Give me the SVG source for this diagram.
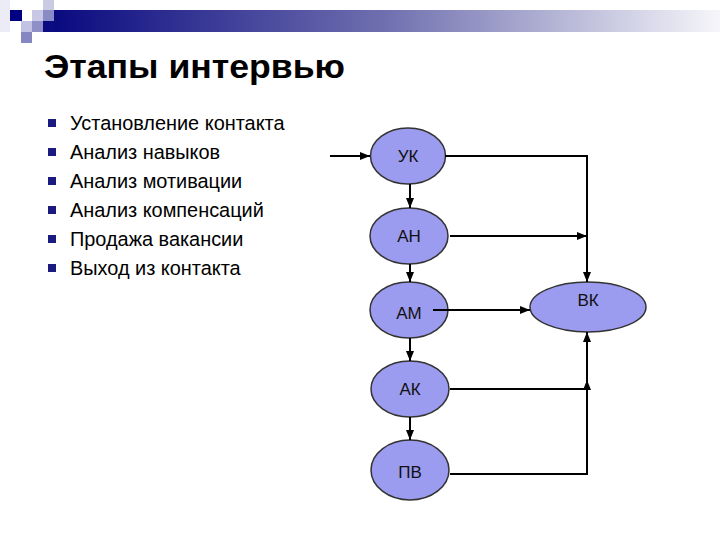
<svg xmlns="http://www.w3.org/2000/svg" width="720" height="540" viewBox="0 0 720 540">
<defs>
<linearGradient id="bar" x1="0" y1="0" x2="1" y2="0">
<stop offset="0" stop-color="#0a0a80"/>
<stop offset="0.5" stop-color="#7070b0"/>
<stop offset="1" stop-color="#f6f6fa"/>
</linearGradient>
<marker id="ah" viewBox="0 0 10 10" refX="10" refY="5" markerWidth="5" markerHeight="5" orient="auto" markerUnits="strokeWidth">
<path d="M0,1 L10,5 L0,9 z" fill="#000"/>
</marker>
<style>
.n{fill:#9b9bef;stroke:#333;stroke-width:1.5}
.nt{font-family:"Liberation Sans",Arial,sans-serif;font-size:17px;fill:#111;text-anchor:middle}
.c{stroke:#000;stroke-width:2;fill:none}
.ca{stroke:#000;stroke-width:2;fill:none;marker-end:url(#ah)}
.b{font-family:"Liberation Sans",Arial,sans-serif;font-size:19.9px;fill:#000}
.bs{fill:#1a1a80}
</style>
</defs>
<rect width="720" height="540" fill="#fff"/>
<g id="decor">
<rect x="54" y="10" width="666" height="22" fill="url(#bar)"/>
<rect x="0" y="0" width="10" height="32" fill="#ececf6"/>
<rect x="10" y="10" width="12" height="11" fill="#000080"/>
<rect x="32" y="10" width="11" height="11" fill="#c8c8e6"/>
<rect x="43" y="0" width="11" height="10" fill="#cacae2"/>
<rect x="43" y="10" width="11" height="11" fill="#8a8ac6"/>
<rect x="21" y="21" width="11" height="11" fill="#c2c2e2"/>
<rect x="32" y="21" width="11" height="11" fill="#9090c8"/>
<rect x="43" y="21" width="11" height="11" fill="#0c0c82"/>
<rect x="21" y="32" width="11" height="11" fill="#8686c0"/>
</g>
<text x="44" y="78" font-family="Liberation Sans,Arial,sans-serif" font-size="34" font-weight="bold" fill="#000" textLength="301" lengthAdjust="spacingAndGlyphs">Этапы интервью</text>
<g id="bullets">
<rect class="bs" x="48" y="119" width="8" height="8"/>
<rect class="bs" x="48" y="148" width="8" height="8"/>
<rect class="bs" x="48" y="177" width="8" height="8"/>
<rect class="bs" x="48" y="206" width="8" height="8"/>
<rect class="bs" x="48" y="235" width="8" height="8"/>
<rect class="bs" x="48" y="264" width="8" height="8"/>
<text class="b" x="70" y="130">Установление контакта</text>
<text class="b" x="70" y="159">Анализ навыков</text>
<text class="b" x="70" y="188">Анализ мотивации</text>
<text class="b" x="70" y="217">Анализ компенсаций</text>
<text class="b" x="70" y="246">Продажа вакансии</text>
<text class="b" x="70" y="275">Выход из контакта</text>
</g>
<g id="UK"><ellipse class="n" cx="408" cy="156" rx="37.5" ry="28"/><text class="nt" x="408" y="162">УК</text></g>
<g id="AN"><ellipse class="n" cx="409" cy="236" rx="39" ry="28"/><text class="nt" x="409" y="242">АН</text></g>
<g id="AM"><ellipse class="n" cx="409" cy="310" rx="39" ry="28"/><text class="nt" x="409" y="319">АМ</text></g>
<g id="AK"><ellipse class="n" cx="410" cy="389" rx="39" ry="28"/><text class="nt" x="410" y="395">АК</text></g>
<g id="PV"><ellipse class="n" cx="410" cy="470" rx="39" ry="30"/><text class="nt" x="410" y="478">ПВ</text></g>
<g id="VK"><ellipse class="n" cx="588" cy="307" rx="58" ry="25"/><text class="nt" x="588" y="306">ВК</text></g>
<g id="connectors">
<line class="ca" x1="330" y1="156" x2="370" y2="156"/>
<polyline class="ca" points="445,156 587,156 587,282"/>
<line class="ca" x1="450" y1="236" x2="587" y2="236"/>
<line class="ca" x1="433" y1="310" x2="530" y2="310"/>
<line class="ca" x1="410" y1="184" x2="410" y2="208"/>
<line class="ca" x1="410" y1="264" x2="410" y2="282"/>
<line class="ca" x1="410" y1="338" x2="410" y2="361"/>
<line class="ca" x1="410" y1="417" x2="410" y2="440"/>
<polyline class="ca" points="450,389 587,389 587,380"/>
<polyline class="ca" points="450,474 587,474 587,332"/>
</g>
</svg>
